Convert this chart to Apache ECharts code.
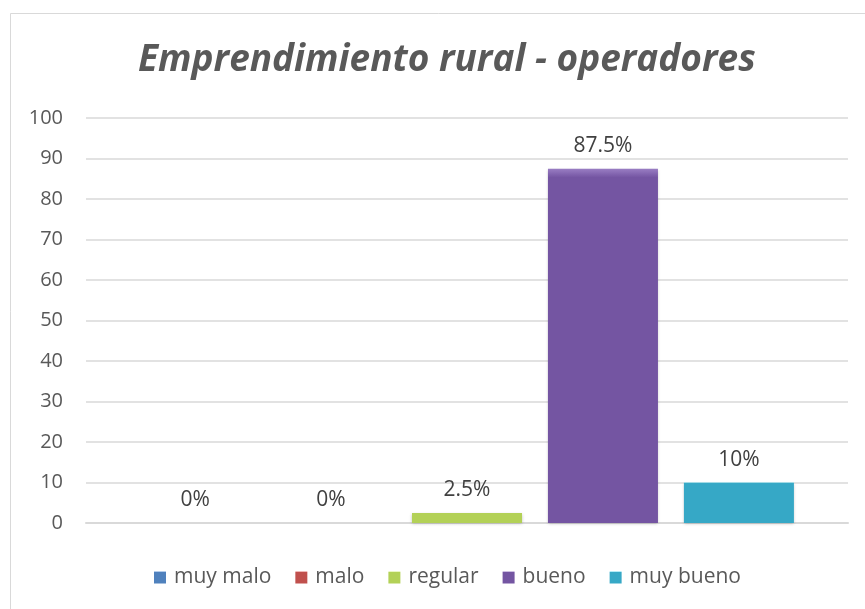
<!DOCTYPE html>
<html>
<head>
<meta charset="utf-8">
<script src="https://cdn.jsdelivr.net/npm/echarts@6/dist/echarts.min.js"></script>
<style>html,body{margin:0;padding:0;background:#fff}#c{width:865px;height:609px}</style>
</head>
<body>
<div id="c"></div>
<script>
const titleText = 'Emprendimiento rural - operadores';
const categories = [''];
const seriesNames = ['muy malo', 'malo', 'regular', 'bueno', 'muy bueno'];
const seriesValues = [0, 0, 2.5, 87.5, 10];
const yTicks = [0, 10, 20, 30, 40, 50, 60, 70, 80, 90, 100];

const palette = [
  ['#6a9bd8', '#4f81bd', '#3a6496'],
  ['#e07370', '#c0504d', '#973c3a'],
  ['#d6ef86', '#b3d157', '#8aa843'],
  ['#9a7ec4', '#7455a2', '#5a4080'],
  ['#6ad8ee', '#36a8c6', '#2a89a3']
];

function grad(c) {
  return new echarts.graphic.LinearGradient(0, 0, 0, 1, [
    {offset: 0, color: c[0]}, {offset: 0.025, color: c[1]}, {offset: 1, color: c[1]}
  ]);
}

const chart = echarts.init(document.getElementById('c'), null, {renderer: 'canvas'});
const series = seriesNames.map((n, i) => ({
  name: n,
  type: 'bar',
  data: [seriesValues[i]],
  barWidth: 110,
  barGap: '23.6%',
  itemStyle: {color: grad(palette[i]), borderWidth: 0,
    shadowColor: 'rgba(0,0,0,0.25)', shadowBlur: 3, shadowOffsetY: 1},
  label: {show: true, position: 'top', distance: 12, formatter: p => p.value + '%',
    fontFamily: 'Open Sans', fontSize: 21, color: '#404040'}
}));

chart.setOption({
  animation: false,
  backgroundColor: '#fff',
  color: palette.map(p => p[1]),
  title: {text: titleText, left: 133, top: 37,
    textStyle: {fontFamily: 'Open Sans', fontStyle: 'italic', fontWeight: 'bold', fontSize: 37, color: '#595959'}},
  graphic: [{type: 'rect', shape: {x: 10.5, y: 13.5, width: 900, height: 700},
    style: {fill: 'none', stroke: '#d9d9d9', lineWidth: 1}, z: -1}],
  legend: {bottom: 16, left: 149, itemWidth: 12, itemHeight: 12, itemGap: 24,
    icon: 'rect', textStyle: {fontFamily: 'Open Sans', fontSize: 21, color: '#595959', padding: [0, 0, 0, 3]},
    data: seriesNames},
  grid: {left: 86, right: 17, top: 118, bottom: 86},
  xAxis: {type: 'category', data: categories, axisLine: {show: true, lineStyle: {color: '#d9d9d9', width: 2}},
    axisTick: {show: false}, axisLabel: {show: false}},
  yAxis: {type: 'value', min: yTicks[0], max: yTicks[yTicks.length - 1], interval: 10,
    axisLine: {show: false}, axisTick: {show: false},
    splitLine: {lineStyle: {color: '#d9d9d9', width: 1.5}},
    axisLabel: {fontFamily: 'Open Sans', fontSize: 20, color: '#595959', margin: 23}},
  series: series
});
</script>
</body>
</html>
